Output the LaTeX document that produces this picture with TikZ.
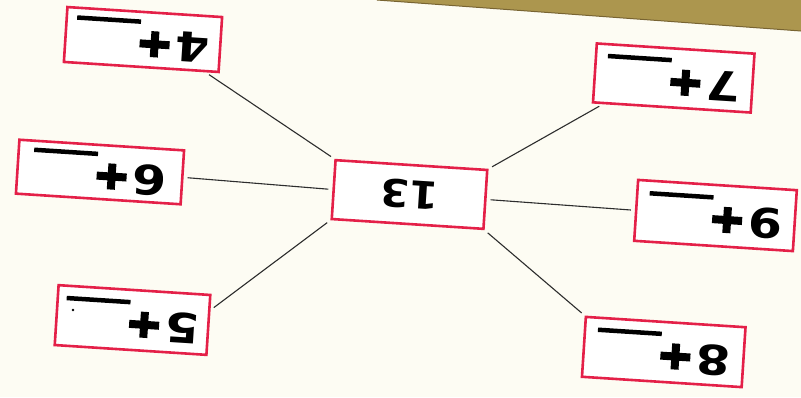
\documentclass[tikz,border=0pt]{standalone}
\usepackage{fontspec}
\setmainfont{DejaVu Sans}
\definecolor{boxred}{RGB}{228,32,72}
\definecolor{paper}{RGB}{253,252,243}
\definecolor{band}{RGB}{172,150,78}
\definecolor{banddark}{RGB}{120,100,50}
\definecolor{wire}{RGB}{45,45,45}
\newcommand{\bigplus}{\rlap{\rule[10pt]{30pt}{8pt}}\hspace{11pt}\rule[1pt]{8pt}{26pt}\hspace{11pt}}
\newcommand{\flipnum}[1]{\rotatebox{180}{\scalebox{1.2}[1]{\bfseries\fontsize{41}{41}\selectfont #1}\hspace{6pt}\bigplus\rule[-10pt]{64pt}{4.5pt}}}
\tikzset{
  numbox/.style={draw=boxred, line width=2.6pt, fill=white, rotate=-3.7, inner sep=0pt},
  wire/.style={draw=wire, line width=1.1pt, shorten <=4pt, shorten >=4pt}
}
\begin{document}
\begin{tikzpicture}[x=1pt,y=-1pt]
\fill[paper] (0,0) rectangle (801,397);
\useasboundingbox (0,0) rectangle (801,397);
\fill[band] (377,0) -- (801,0) -- (801,31) -- cycle;
\draw[banddark, line width=1pt] (377,0) -- (801,31);
\node[numbox, minimum width=155pt, minimum height=55pt] (n4) at (143,39.5) {\flipnum{4}};
\node[numbox, minimum width=152pt, minimum height=59pt] (n13) at (409.5,194.5) {\rotatebox{180}{\scalebox{1.1}[1]{\bfseries\fontsize{38}{38}\selectfont 13}}};
\node[numbox, minimum width=158pt, minimum height=59pt] (n7) at (673.75,78) {\flipnum{7}};
\node[numbox, minimum width=165pt, minimum height=54pt] (n6) at (100,172) {\flipnum{6}};
\node[numbox, minimum width=159pt, minimum height=61pt] (n9) at (715.5,215.5) {\flipnum{9}};
\node[numbox, minimum width=152pt, minimum height=60pt] (n5) at (132.5,320) {\flipnum{5}};
\node[numbox, minimum width=160pt, minimum height=60pt] (n8) at (663.75,352) {\flipnum{8}};
\fill[black] (73,310) circle (1.3pt);
\draw[wire] (n4.-24) -- (n13.north west);
\draw[wire] (n7.-156) -- (n13.north east);
\draw[wire] (n6.east) -- (n13.west);
\draw[wire] (n9.west) -- (n13.east);
\draw[wire] (n5.11) -- (n13.south west);
\draw[wire] (n8.north west) -- (n13.south east);
\end{tikzpicture}
\end{document}
